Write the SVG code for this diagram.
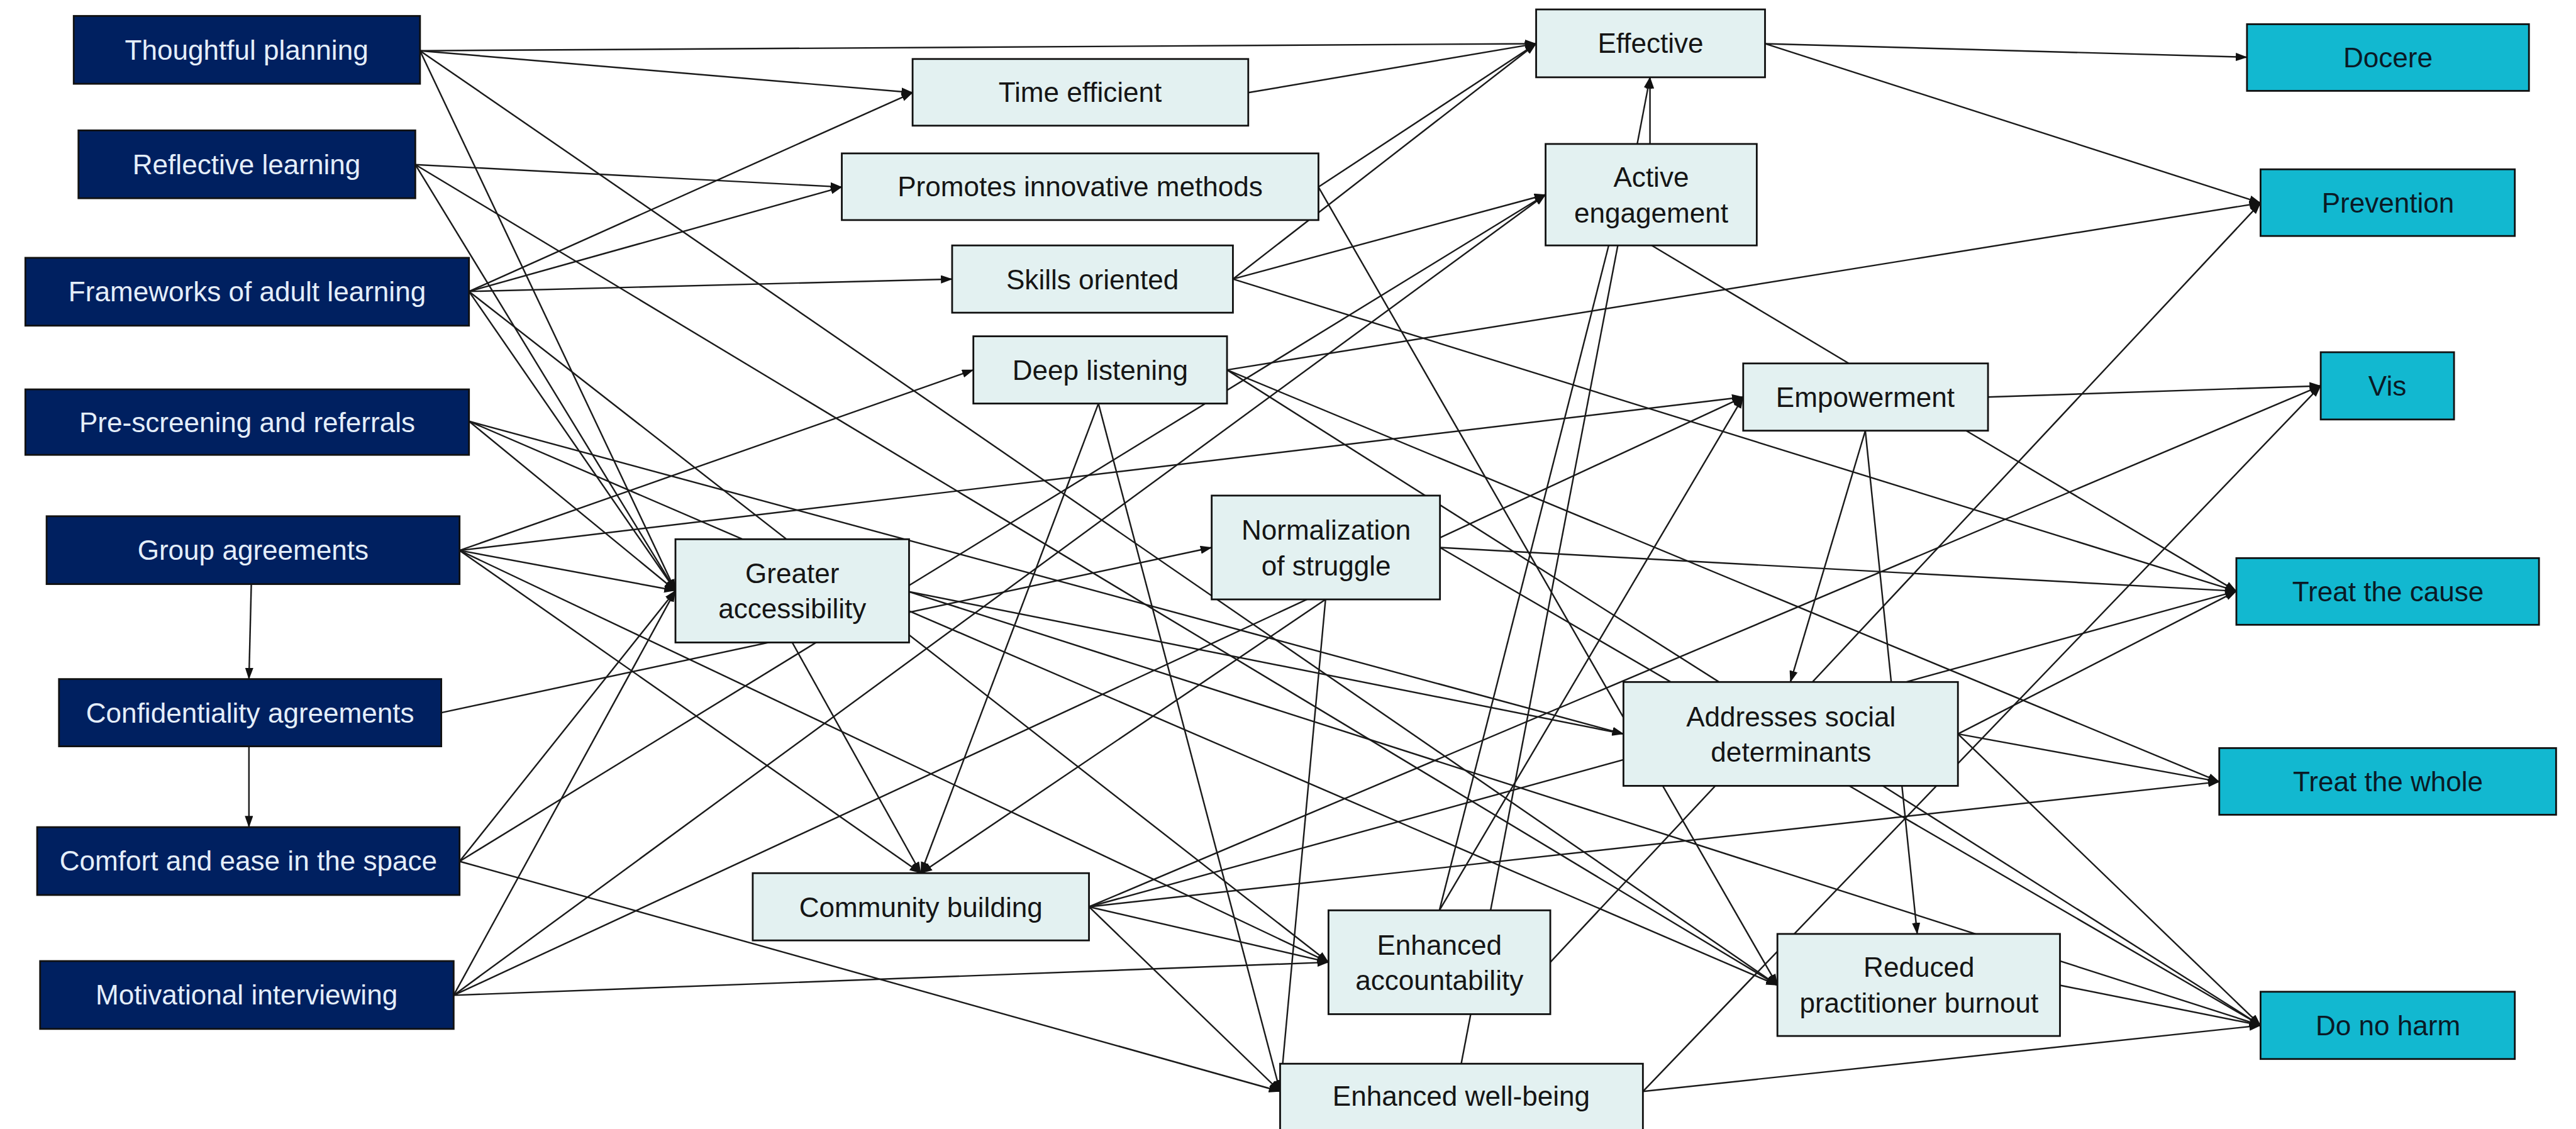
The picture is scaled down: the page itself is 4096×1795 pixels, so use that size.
<svg xmlns="http://www.w3.org/2000/svg" width="4096" height="1795" viewBox="0 0 4096 1795">
<style>
  .node rect { stroke: #111; stroke-width: 3; }
  .src rect { fill: #002060; }
  .src text { fill: #e4eefa; }
  .mid rect { fill: #e3f1f1; }
  .mid text { fill: #151515; }
  .out rect { fill: #12b8d0; }
  .out text { fill: #0a1a26; }
  text { font-family: "Liberation Sans", Arial, sans-serif; font-size: 47px; text-anchor: middle; }
  #connectors line { stroke: #1a1a1a; stroke-width: 2.6; fill: none; marker-end: url(#ah); }
  #connectors line.plain { marker-end: none; }
</style>
<defs>
  <marker id="ah" markerUnits="userSpaceOnUse" markerWidth="20" markerHeight="14" refX="19" refY="7" orient="auto">
    <path d="M0,0 L20,7 L0,14 z" fill="#111"/>
  </marker>
</defs>
<rect x="0" y="0" width="4096" height="1795" fill="#ffffff"/>
<g transform="scale(0.938)">
  <g id="connectors">
    <!-- Thoughtful planning -->
    <line x1="712" y1="86" x2="2604" y2="74"/>
    <line x1="712" y1="86" x2="1547" y2="157"/>
    <line x1="712" y1="86" x2="1145" y2="1001"/>
    <line x1="712" y1="86" x2="3013" y2="1670"/>
    <!-- Reflective learning -->
    <line x1="704" y1="279" x2="1427" y2="317"/>
    <line x1="704" y1="279" x2="1145" y2="1001"/>
    <line x1="704" y1="279" x2="3013" y2="1670"/>
    <!-- Frameworks of adult learning -->
    <line x1="795" y1="494" x2="1547" y2="157"/>
    <line x1="795" y1="494" x2="1427" y2="317"/>
    <line x1="795" y1="494" x2="1614" y2="473"/>
    <line x1="795" y1="494" x2="1145" y2="1001"/>
    <line x1="795" y1="494" x2="2252" y2="1631"/>
    <!-- Pre-screening and referrals -->
    <line x1="795" y1="714" x2="1145" y2="1001"/>
    <line x1="795" y1="714" x2="2752" y2="1244"/>
    <line x1="795" y1="714" x2="3013" y2="1670"/>
    <!-- Group agreements -->
    <line x1="779" y1="933" x2="1650" y2="627"/>
    <line x1="779" y1="933" x2="2955" y2="673"/>
    <line x1="779" y1="933" x2="1145" y2="1001"/>
    <line x1="779" y1="933" x2="2252" y2="1631"/>
    <line x1="779" y1="933" x2="1561" y2="1480"/>
    <line x1="426" y1="990" x2="422" y2="1151"/>
    <!-- Confidentiality agreements -->
    <line x1="748" y1="1208" x2="2054" y2="928"/>
    <line x1="422" y1="1265" x2="422" y2="1402"/>
    <!-- Comfort and ease in the space -->
    <line x1="779" y1="1460" x2="1145" y2="1001"/>
    <line x1="779" y1="1460" x2="2620" y2="330"/>
    <line x1="779" y1="1460" x2="2170" y2="1850"/>
    <!-- Motivational interviewing -->
    <line x1="769" y1="1687" x2="1145" y2="1001"/>
    <line x1="769" y1="1687" x2="2620" y2="330"/>
    <line x1="769" y1="1687" x2="2955" y2="673"/>
    <line x1="769" y1="1687" x2="2252" y2="1631"/>
    <!-- Time efficient / Promotes innovative methods / Skills oriented -->
    <line x1="2116" y1="157" x2="2604" y2="74"/>
    <line x1="2235" y1="317" x2="2604" y2="74"/>
    <line x1="2235" y1="317" x2="3013" y2="1670"/>
    <line x1="2090" y1="473" x2="2604" y2="74"/>
    <line x1="2090" y1="473" x2="2620" y2="330"/>
    <line x1="2090" y1="473" x2="3791" y2="1002"/>
    <!-- Deep listening -->
    <line x1="2080" y1="627" x2="3832" y2="344"/>
    <line x1="2080" y1="627" x2="3762" y2="1325"/>
    <line x1="2080" y1="627" x2="3832" y2="1738"/>
    <line x1="1862" y1="684" x2="1561" y2="1480"/>
    <line x1="1862" y1="684" x2="2170" y2="1850"/>
    <!-- Effective / Active engagement -->
    <line x1="2992" y1="74" x2="3809" y2="97"/>
    <line x1="2992" y1="74" x2="3832" y2="344"/>
    <line x1="2797" y1="244" x2="2797" y2="131"/>
    <line class="plain" x1="2800" y1="416" x2="3134" y2="616"/>
    <!-- Greater accessibility -->
    <line x1="1541" y1="1003" x2="2752" y2="1244"/>
    <line x1="1541" y1="1003" x2="3832" y2="1738"/>
    <line x1="1343" y1="1089" x2="1561" y2="1480"/>
    <!-- Normalization of struggle -->
    <line x1="2441" y1="928" x2="3791" y2="1002"/>
    <line x1="2441" y1="928" x2="3832" y2="1738"/>
    <line x1="2247" y1="1016" x2="1561" y2="1480"/>
    <line x1="2247" y1="1016" x2="2170" y2="1850"/>
    <!-- Empowerment -->
    <line x1="3370" y1="673" x2="3934" y2="654"/>
    <line x1="3333" y1="730" x2="3791" y2="1002"/>
    <line x1="3162" y1="730" x2="3035" y2="1156"/>
    <line x1="3162" y1="730" x2="3250" y2="1583"/>
    <!-- Addresses social determinants -->
    <line x1="3319" y1="1244" x2="3791" y2="1002"/>
    <line x1="3319" y1="1244" x2="3762" y2="1325"/>
    <line x1="3319" y1="1244" x2="3832" y2="1738"/>
    <!-- Community building -->
    <line x1="1846" y1="1537" x2="3934" y2="654"/>
    <line x1="1846" y1="1537" x2="3791" y2="1002"/>
    <line x1="1846" y1="1537" x2="3762" y2="1325"/>
    <line x1="1846" y1="1537" x2="2252" y2="1631"/>
    <line x1="1846" y1="1537" x2="2170" y2="1850"/>
    <!-- Enhanced accountability -->
    <line class="plain" x1="2440" y1="1543" x2="2727" y2="416"/>
    <line x1="2440" y1="1543" x2="2955" y2="673"/>
    <line x1="2628" y1="1631" x2="3832" y2="344"/>
    <!-- Enhanced well-being -->
    <line x1="2477" y1="1803" x2="2797" y2="131"/>
    <line x1="2785" y1="1850" x2="3934" y2="654"/>
    <line x1="2785" y1="1850" x2="3832" y2="1738"/>
    <!-- Reduced practitioner burnout -->
    <line x1="3492" y1="1670" x2="3832" y2="1738"/>
  </g>

  <g id="n-thoughtful" class="node src"><rect x="125" y="27" width="587" height="115"/><text x="418" y="101">Thoughtful planning</text></g>
  <g id="n-reflective" class="node src"><rect x="133" y="221" width="571" height="115"/><text x="418" y="295">Reflective learning</text></g>
  <g id="n-frameworks" class="node src"><rect x="43" y="437" width="752" height="115"/><text x="419" y="511">Frameworks of adult learning</text></g>
  <g id="n-prescreening" class="node src"><rect x="43" y="660" width="752" height="111"/><text x="419" y="732">Pre-screening and referrals</text></g>
  <g id="n-group" class="node src"><rect x="79" y="875" width="700" height="115"/><text x="429" y="949">Group agreements</text></g>
  <g id="n-confidentiality" class="node src"><rect x="100" y="1151" width="648" height="114"/><text x="424" y="1225">Confidentiality agreements</text></g>
  <g id="n-comfort" class="node src"><rect x="63" y="1402" width="716" height="115"/><text x="421" y="1476">Comfort and ease in the space</text></g>
  <g id="n-motivational" class="node src"><rect x="68" y="1629" width="701" height="115"/><text x="418" y="1703">Motivational interviewing</text></g>

  <g id="n-time" class="node mid"><rect x="1547" y="100" width="569" height="113"/><text x="1831" y="173">Time efficient</text></g>
  <g id="n-promotes" class="node mid"><rect x="1427" y="260" width="808" height="113"/><text x="1831" y="333">Promotes innovative methods</text></g>
  <g id="n-skills" class="node mid"><rect x="1614" y="416" width="476" height="114"/><text x="1852" y="490">Skills oriented</text></g>
  <g id="n-deep" class="node mid"><rect x="1650" y="570" width="430" height="114"/><text x="1865" y="644">Deep listening</text></g>
  <g id="n-effective" class="node mid"><rect x="2604" y="16" width="388" height="115"/><text x="2798" y="90">Effective</text></g>
  <g id="n-active" class="node mid"><rect x="2620" y="244" width="358" height="172"/><text x="2799" y="317">Active</text><text x="2799" y="377">engagement</text></g>
  <g id="n-greater" class="node mid"><rect x="1145" y="914" width="396" height="175"/><text x="1343" y="988">Greater</text><text x="1343" y="1048">accessibility</text></g>
  <g id="n-normalization" class="node mid"><rect x="2054" y="840" width="387" height="176"/><text x="2248" y="915">Normalization</text><text x="2248" y="975">of struggle</text></g>
  <g id="n-empowerment" class="node mid"><rect x="2955" y="616" width="415" height="114"/><text x="3162" y="690">Empowerment</text></g>
  <g id="n-social" class="node mid"><rect x="2752" y="1156" width="567" height="176"/><text x="3036" y="1231">Addresses social</text><text x="3036" y="1291">determinants</text></g>
  <g id="n-community" class="node mid"><rect x="1276" y="1480" width="570" height="114"/><text x="1561" y="1554">Community building</text></g>
  <g id="n-accountability" class="node mid"><rect x="2252" y="1543" width="376" height="176"/><text x="2440" y="1618">Enhanced</text><text x="2440" y="1678">accountability</text></g>
  <g id="n-burnout" class="node mid"><rect x="3013" y="1583" width="479" height="173"/><text x="3253" y="1656">Reduced</text><text x="3253" y="1716">practitioner burnout</text></g>
  <g id="n-wellbeing" class="node mid"><rect x="2170" y="1803" width="615" height="140"/><text x="2477" y="1874">Enhanced well-being</text></g>

  <g id="n-docere" class="node out"><rect x="3809" y="41" width="478" height="113"/><text x="4048" y="114">Docere</text></g>
  <g id="n-prevention" class="node out"><rect x="3832" y="287" width="431" height="113"/><text x="4048" y="360">Prevention</text></g>
  <g id="n-vis" class="node out"><rect x="3934" y="597" width="226" height="114"/><text x="4047" y="671">Vis</text></g>
  <g id="n-cause" class="node out"><rect x="3791" y="946" width="513" height="113"/><text x="4048" y="1019">Treat the cause</text></g>
  <g id="n-whole" class="node out"><rect x="3762" y="1268" width="571" height="113"/><text x="4048" y="1341">Treat the whole</text></g>
  <g id="n-harm" class="node out"><rect x="3832" y="1681" width="431" height="114"/><text x="4048" y="1755">Do no harm</text></g>
</g>
</svg>
